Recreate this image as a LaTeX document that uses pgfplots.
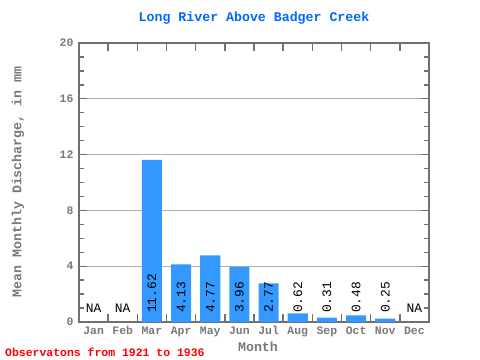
\documentclass[border=0pt]{standalone}
\usepackage{pgfplots}
\pgfplotsset{compat=1.18}
\usepackage{fontspec}
\setmainfont{Liberation Mono}
\definecolor{barblue}{RGB}{51,153,255}
\definecolor{titleblue}{RGB}{0,102,255}
\definecolor{axgray}{RGB}{112,112,112}
\definecolor{lblgray}{RGB}{120,120,120}
\definecolor{gridgray}{RGB}{175,175,175}
\begin{document}
\begin{tikzpicture}
\useasboundingbox (-79bp,-38bp) rectangle (401bp,322bp);
\begin{axis}[
  at={(0,0)}, anchor=south west,
  scale only axis, width=350bp, height=279bp,
  xmin=-0.5, xmax=11.5, ymin=0, ymax=20,
  axis line style={axgray, line width=1.6pt},
  /pgf/number format/assume math mode=true,
  xtick={0.5,1.5,...,10.5}, xticklabels={},
  extra x ticks={0,1,...,11},
  extra x tick labels={Jan,Feb,Mar,Apr,May,Jun,Jul,Aug,Sep,Oct,Nov,Dec},
  extra x tick style={major tick length=0pt, grid=none,
     tick label style={font=\fontsize{11.5}{11.5}\selectfont\bfseries, text=lblgray,
       text height=8bp, text depth=2.5bp, yshift=-1bp}},
  ytick={0,4,...,20},
  minor y tick num=3,
  ymajorgrids, major grid style={gridgray, line width=0.8pt},
  tick style={axgray, line width=1.4pt},
  major tick length=8bp, minor tick length=5bp,
  tick align=inside,
  yticklabel style={font=\fontsize{11.5}{11.5}\selectfont\bfseries, text=lblgray, xshift=-2bp},
  xtick pos=both, ytick pos=both,
  clip=false,
]
\addplot[ybar, bar width=0.69, fill=barblue, draw=none, bar shift=0pt] coordinates {
 (2,11.62) (3,4.13) (4,4.77) (5,3.96) (6,2.77) (7,0.62) (8,0.31) (9,0.48) (10,0.25)};
\addplot[draw=none, mark=none, nodes near coords, point meta=explicit symbolic,
  every node near coord/.append style={rotate=90, anchor=west, inner sep=0pt, text=black,
    font=\fontsize{13}{13}\selectfont}]
  table[meta=l] {
x y l
2 0.64 11.62
3 0.64 4.13
4 0.64 4.77
5 0.64 3.96
6 0.64 2.77
7 0.64 0.62
8 0.64 0.31
9 0.64 0.48
10 0.64 0.25
};
\addplot[draw=none, mark=none, nodes near coords, point meta=explicit symbolic,
  every node near coord/.append style={anchor=center, inner sep=0pt, text=black,
    font=\fontsize{13}{13}\selectfont}]
  table[meta=l] {
x y l
0 1.0 NA
1 1.0 NA
11 1.0 NA
};
\end{axis}
\node[text=titleblue, font=\fontsize{13.3}{13.3}\selectfont\bfseries] at (175bp,304bp) {Long River Above Badger Creek};
\node[text=lblgray, rotate=90, font=\fontsize{13.3}{13.3}\selectfont\bfseries] at (-61bp,140bp) {Mean Monthly Discharge, in mm};
\node[text=lblgray, font=\fontsize{13.3}{13.3}\selectfont\bfseries] at (179bp,-25bp) {Month};
\node[text=red, anchor=west, inner sep=0pt, font=\fontsize{11.5}{11.5}\selectfont\bfseries] at (-74bp,-30bp) {Observatons from 1921 to 1936};
\end{tikzpicture}
\end{document}
